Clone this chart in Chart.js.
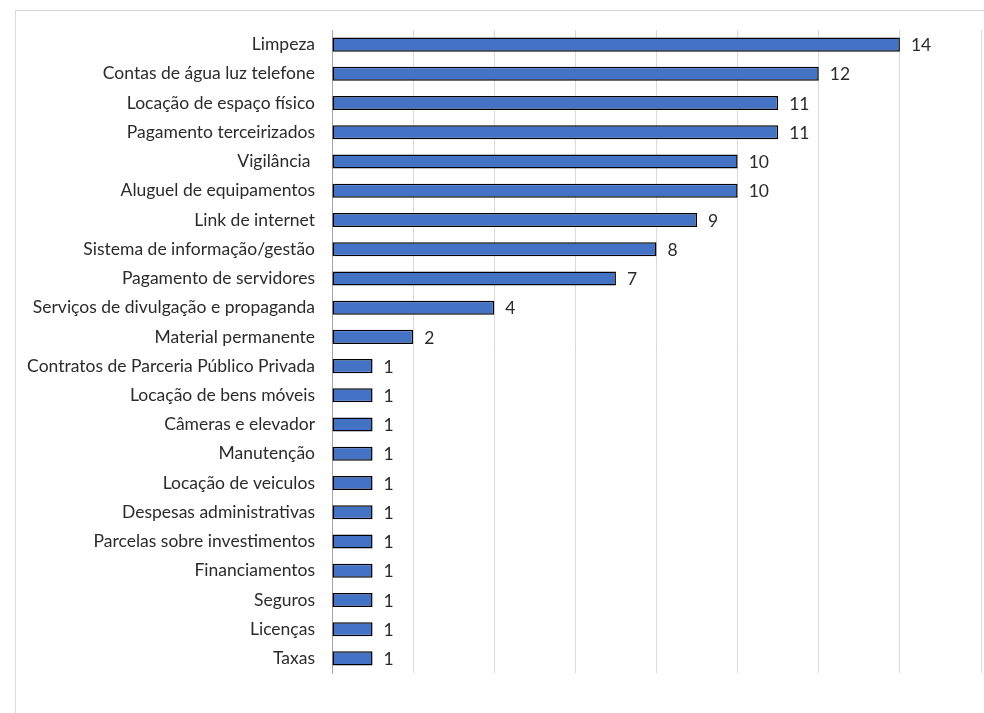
<!DOCTYPE html>
<html>
<head>
<meta charset="utf-8">
<script src="https://cdn.jsdelivr.net/npm/chart.js@4"></script>
<style>
  html, body { margin: 0; padding: 0; background: #fff; }
  #wrap { position: relative; width: 984px; height: 713px; overflow: hidden; }
  #frame { position: absolute; left: 15px; top: 10px; width: 1000px; height: 760px; border: 1px solid #d9d9d9; box-sizing: border-box; }
  canvas { position: absolute; left: 0; top: 0; }
</style>
</head>
<body>
<div id="wrap">
  <div id="frame"></div>
  <canvas id="c" width="984" height="713"></canvas>
</div>
<script>
const categories = [
  "Limpeza",
  "Contas de água luz telefone",
  "Locação de espaço físico",
  "Pagamento terceirizados",
  "Vigilância ",
  "Aluguel de equipamentos",
  "Link de internet",
  "Sistema de informação/gestão",
  "Pagamento de servidores",
  "Serviços de divulgação e propaganda",
  "Material permanente",
  "Contratos de Parceria Público Privada",
  "Locação de bens móveis",
  "Câmeras e elevador",
  "Manutenção",
  "Locação de veiculos",
  "Despesas administrativas",
  "Parcelas sobre investimentos",
  "Financiamentos",
  "Seguros",
  "Licenças",
  "Taxas"
];
const values = [14, 12, 11, 11, 10, 10, 9, 8, 7, 4, 2, 1, 1, 1, 1, 1, 1, 1, 1, 1, 1, 1];
const axisMin = 0;
const axisMax = 16;
const axisStep = 2;

const FONT = "Lato, 'Open Sans', sans-serif";
const TEXT = "#2b2b2b";

const valueLabels = {
  id: 'valueLabels',
  afterDatasetsDraw(chart) {
    const ctx = chart.ctx;
    const meta = chart.getDatasetMeta(0);
    ctx.save();
    ctx.font = "17.5px " + FONT;
    ctx.fillStyle = TEXT;
    ctx.textAlign = 'left';
    ctx.textBaseline = 'middle';
    meta.data.forEach((bar, i) => {
      ctx.fillText(String(values[i]), bar.x + 11, bar.y + 1);
    });
    ctx.restore();
  }
};

new Chart(document.getElementById('c'), {
  type: 'bar',
  data: {
    labels: categories,
    datasets: [{
      data: values,
      backgroundColor: '#4472C4',
      borderColor: '#000000',
      borderWidth: 1.5,
      borderSkipped: false,
      categoryPercentage: 1,
      barPercentage: 0.48
    }]
  },
  options: {
    indexAxis: 'y',
    responsive: false,
    animation: false,
    layout: { padding: { left: 0, right: 3, top: 30, bottom: 40 } },
    plugins: { legend: { display: false }, tooltip: { enabled: false } },
    scales: {
      x: {
        min: axisMin, max: axisMax,
        ticks: { display: false, stepSize: axisStep },
        grid: { color: '#d9d9d9', lineWidth: 1, drawTicks: false },
        border: { display: false },
        afterFit(scale) { scale.height = 0; }
      },
      y: {
        grid: { display: false, drawTicks: false },
        border: { display: true, color: '#a6a6a6', width: 1 },
        ticks: { color: TEXT, font: { family: FONT, size: 17.5 }, padding: 17, autoSkip: false },
        afterFit(scale) { scale.width = 332; }
      }
    }
  },
  plugins: [valueLabels]
});
</script>
</body>
</html>
